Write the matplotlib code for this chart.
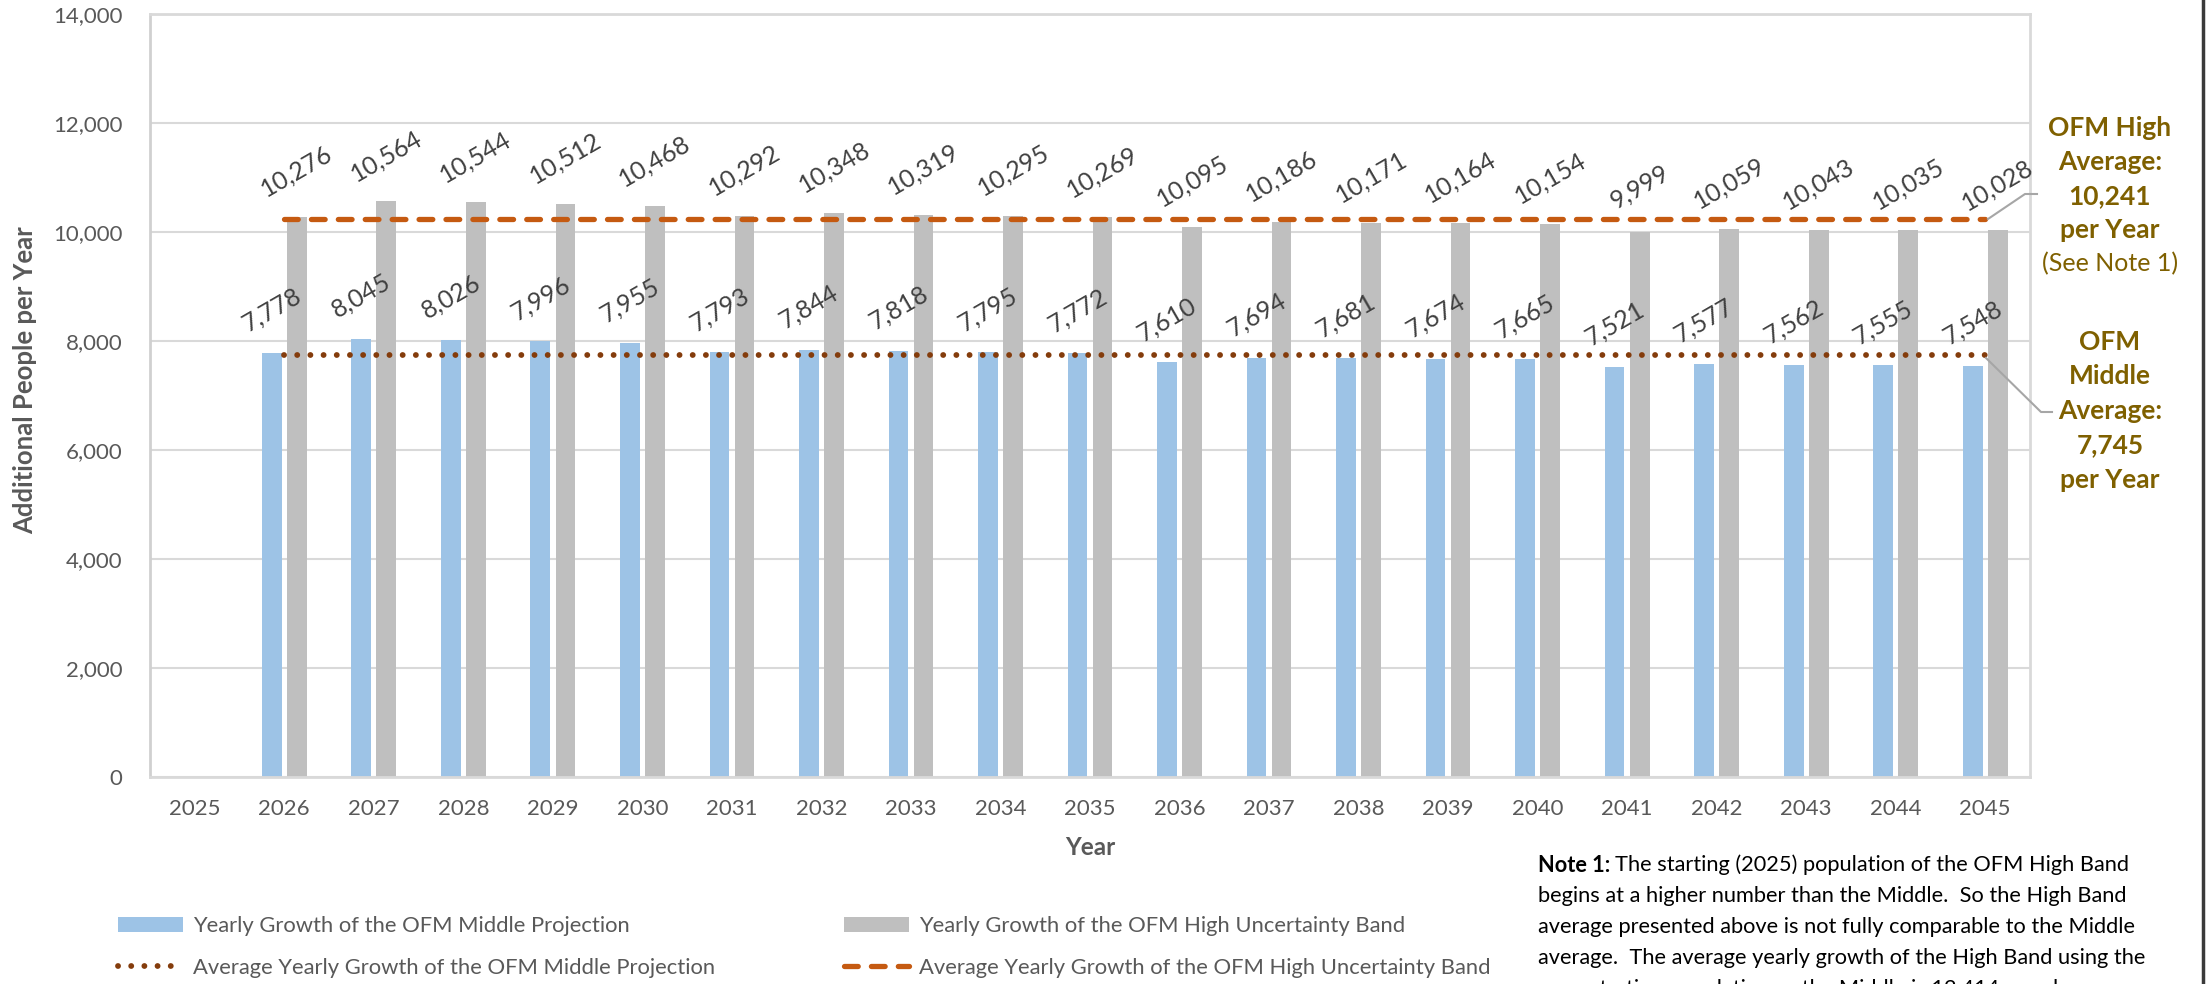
import numpy as np
import matplotlib
matplotlib.use("Agg")
import matplotlib.pyplot as plt
from matplotlib.lines import Line2D
from matplotlib.patches import Patch

plt.rcParams['font.family'] = ['Lato', 'DejaVu Sans']

years = [str(y) for y in range(2025, 2046)]
middle = [np.nan, 7778, 8045, 8026, 7996, 7955, 7793, 7844, 7818, 7795, 7772,
          7610, 7694, 7681, 7674, 7665, 7521, 7577, 7562, 7555, 7548]
high = [np.nan, 10276, 10564, 10544, 10512, 10468, 10292, 10348, 10319, 10295, 10269,
        10095, 10186, 10171, 10164, 10154, 9999, 10059, 10043, 10035, 10028]
avg_middle = 7745
avg_high = 10241
yticks = [0, 2000, 4000, 6000, 8000, 10000, 12000, 14000]

C_BLUE = '#9DC3E6'
C_GRAY = '#BFBFBF'
C_ORANGE = '#C55A11'
C_BROWN = '#843C0C'
C_TEXT = '#595959'
C_LABEL = '#404040'
C_GOLD = '#7F6000'
C_GRID = '#D9D9D9'

W, H = 2207, 984
fig = plt.figure(figsize=(W / 100, H / 100), dpi=100)
ax = fig.add_axes([150 / W, 1 - 777 / H, (2030 - 150) / W, (777 - 14) / H])

x = np.arange(len(years))
bw = 0.22
off = 0.14
ax.bar(x - off, middle, width=bw, color=C_BLUE, zorder=2)
ax.bar(x + off, high, width=bw, color=C_GRAY, zorder=2)

valid = [i for i, v in enumerate(middle) if not np.isnan(v)]
xs = [valid[0], valid[-1]]
DASH = (0, (2.6, 2.5))
DOT = (0, (0.01, 2.25))
ax.plot(xs, [avg_high] * 2, color=C_ORANGE, lw=3.8, ls=DASH,
        dash_capstyle='round', zorder=3)
ax.plot(xs, [avg_middle] * 2, color=C_BROWN, lw=4.2, ls=DOT,
        dash_capstyle='round', zorder=3)

for i in valid:
    ax.annotate(f"{middle[i]:,.0f}", (x[i] - off, middle[i]), xytext=(0, 31),
                textcoords='offset points', ha='center', va='center', rotation=30,
                fontsize=18, color=C_LABEL, zorder=4)
    ax.annotate(f"{high[i]:,.0f}", (x[i] + off, high[i]), xytext=(0, 33),
                textcoords='offset points', ha='center', va='center', rotation=30,
                fontsize=18, color=C_LABEL, zorder=4)

ax.set_xlim(-0.5, len(years) - 0.5)
ax.set_ylim(0, 14000)
ax.set_xticks(x)
ax.set_xticklabels(years)
ax.set_yticks(yticks)
ax.set_yticklabels([f"{v:,}" for v in yticks])
ax.tick_params(axis='both', length=0, labelsize=16, labelcolor=C_TEXT)
ax.tick_params(axis='x', pad=16)
ax.tick_params(axis='y', pad=20)
ax.grid(axis='y', color=C_GRID, lw=1.5, zorder=0)
ax.set_axisbelow(True)
for s in ax.spines.values():
    s.set_color(C_GRID)
    s.set_linewidth(2)
ax.spines['left'].set_color('#D0D0D0')

ax.set_xlabel('Year', fontsize=17.5, fontweight='bold', color=C_TEXT, labelpad=12)
fig.text(25 / W, 1 - 380 / H, 'Additional People per Year', rotation=90,
         ha='center', va='center', fontsize=18.5, fontweight='bold', color=C_TEXT)

def px(xp, yp):
    return xp / W, 1 - yp / H

lh = list(zip(*[px(1988, 219), px(2025, 194), px(2037, 194)]))
fig.add_artist(Line2D(lh[0], lh[1], color='#A6A6A6', lw=1.5))
lm = list(zip(*[px(1986, 358), px(2041, 412), px(2052, 412)]))
fig.add_artist(Line2D(lm[0], lm[1], color='#A6A6A6', lw=1.5))

cx = 2110 / W
high_lines = ['OFM High', 'Average:', '10,241', 'per Year']
for k, t in enumerate(high_lines):
    fig.text(cx, 1 - (128 + 34 * k) / H, t, ha='center', va='center',
             fontsize=19, fontweight='bold', color=C_GOLD)
fig.text(cx, 1 - 264 / H, '(See Note 1)', ha='center', va='center',
         fontsize=18, color=C_GOLD)
mid_lines = ['OFM', 'Middle', 'Average:', '7,745', 'per Year']
for k, t in enumerate(mid_lines):
    fig.text(cx, 1 - (342 + 34.5 * k) / H, t, ha='center', va='center',
             fontsize=19, fontweight='bold', color=C_GOLD)

h1 = [Patch(facecolor=C_BLUE), Line2D([], [], color=C_BROWN, lw=4.2, ls=DOT,
                                       dash_capstyle='round')]
l1 = ['Yearly Growth of the OFM Middle Projection',
      'Average Yearly Growth of the OFM Middle Projection']
h2 = [Patch(facecolor=C_GRAY), Line2D([], [], color=C_ORANGE, lw=3.8, ls=DASH,
                                       dash_capstyle='round')]
l2 = ['Yearly Growth of the OFM High Uncertainty Band',
      'Average Yearly Growth of the OFM High Uncertainty Band']
for hs, ls_, xl in [(h1, l1, 118), (h2, l2, 844)]:
    leg = fig.legend(hs, ls_, loc='upper left', bbox_to_anchor=(xl / W, 1 - 916 / H),
                     frameon=False, fontsize=15.8, handlelength=2.95, handletextpad=0.45,
                     labelspacing=1.0, borderpad=0, borderaxespad=0)
    for t in leg.get_texts():
        t.set_color(C_TEXT)

note_x = 1538 / W
ny0 = 865
sp = 31.0
FS = 15.7
note_lines = [
    'begins at a higher number than the Middle.  So the High Band',
    'average presented above is not fully comparable to the Middle',
    'average.  The average yearly growth of the High Band using the',
]
fig.canvas.draw()
r = fig.canvas.get_renderer()
nb = fig.text(note_x, 1 - ny0 / H, 'Note 1:', ha='left', va='center', fontsize=FS,
              fontweight='bold', color='black')
bb = nb.get_window_extent(renderer=r)
fig.text(bb.x1 / W + 5 / W, 1 - ny0 / H, 'The starting (2025) population of the OFM High Band',
         ha='left', va='center', fontsize=FS, color='black')
for k, t in enumerate(note_lines):
    fig.text(note_x, 1 - (ny0 + sp * (k + 1)) / H, t, ha='left', va='center',
             fontsize=FS, color='black')
ys = 1 - (ny0 + sp * 4) / H
s1 = fig.text(note_x, ys, 'same', ha='left', va='center', fontsize=FS,
              style='italic', color='black')
bb2 = s1.get_window_extent(renderer=r)
fig.text(bb2.x1 / W + 5 / W, ys, 'starting population as the Middle is 12,414 people per',
         ha='left', va='center', fontsize=FS, color='black')

fig.add_artist(Line2D([2203 / W, 2203 / W], [0, 1], color='#3A3A3A', lw=2.5))

fig.savefig('out.png', dpi=100)
